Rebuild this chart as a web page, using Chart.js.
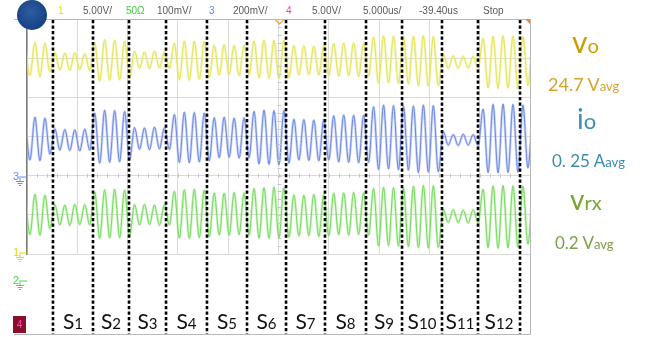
<!DOCTYPE html>
<html><head><meta charset="utf-8">
<script src="https://cdn.jsdelivr.net/npm/chart.js@4.4.1/dist/chart.umd.min.js"></script>
<style>
html,body{margin:0;padding:0;background:#fff;}
#wrap{position:relative;width:646px;height:337px;overflow:hidden;background:#fff;}
canvas{position:absolute;left:0;top:0;}
.t{position:absolute;white-space:nowrap;line-height:1;}
.hdr{font-family:"Liberation Sans",Arial,sans-serif;font-size:10px;color:#5a5a5a;top:6px;}
.ann{font-family:Lato,"Open Sans",sans-serif;}
.seg{font-family:Lato,"Open Sans",sans-serif;color:#111;font-size:21px;top:310px;transform:translateX(-50%);}
.seg span{font-size:15px;}
.mk{font-family:"Liberation Sans",Arial,sans-serif;font-size:11px;}
#logo{position:absolute;left:17px;top:0px;width:30px;height:30px;border-radius:50%;
 background:radial-gradient(circle at 45% 40%,#2d5da3 0%,#1a4688 60%,#123670 100%);}
</style></head>
<body>
<div id="wrap">
<canvas id="c" width="646" height="337"></canvas>
<div id="logo"></div>
<div id="texts"></div>
</div>
<script>
// ---- data (values in divisions, relative to each trace's centre line) ----
// one peak and one trough per cycle, 52 cycles across the screen
const yellowPk = [0.36,0.40,0.38, 0.15,0.13,0.14,0.12, 0.40,0.47,0.46,0.44, 0.18,0.16,0.18,0.17, 0.38,0.44,0.43,0.42, 0.33,0.34,0.32,0.33, 0.44,0.46,0.45,0.46, 0.32,0.31,0.30,0.31, 0.37,0.38,0.39,0.38, 0.54,0.57,0.56,0.55, 0.56,0.57,0.55,0.10, 0.06,0.05,0.05, 0.50,0.56,0.57,0.56,0.55, 0.40];
const yellowTr = [-0.44,-0.47,-0.35, -0.30,-0.31,-0.29,-0.32, -0.58,-0.56,-0.55,-0.50, -0.26,-0.27,-0.25,-0.26, -0.55,-0.56,-0.54,-0.50, -0.43,-0.42,-0.44,-0.43, -0.50,-0.51,-0.52,-0.49, -0.43,-0.42,-0.43,-0.44, -0.46,-0.45,-0.47,-0.46, -0.64,-0.63,-0.65,-0.66, -0.70,-0.71,-0.70,-0.26, -0.26,-0.25,-0.26, -0.76,-0.77,-0.76,-0.78,-0.70, -0.50];
const bluePk = [0.46,0.49,0.47, 0.20,0.18,0.17,0.19, 0.60,0.67,0.66,0.64, 0.23,0.22,0.24,0.23, 0.56,0.62,0.61,0.60, 0.48,0.49,0.47,0.48, 0.64,0.67,0.66,0.66, 0.44,0.43,0.42,0.43, 0.53,0.55,0.54,0.54, 0.76,0.80,0.79,0.78, 0.78,0.80,0.79,0.12, 0.05,0.06,0.05, 0.70,0.82,0.83,0.82,0.80, 0.50];
const blueTr = [-0.60,-0.62,-0.45, -0.35,-0.36,-0.37,-0.35, -0.68,-0.66,-0.65,-0.60, -0.33,-0.34,-0.32,-0.33, -0.66,-0.67,-0.65,-0.62, -0.54,-0.53,-0.55,-0.54, -0.70,-0.71,-0.72,-0.68, -0.60,-0.61,-0.62,-0.60, -0.65,-0.66,-0.67,-0.66, -0.84,-0.83,-0.85,-0.86, -0.92,-0.91,-0.90,-0.22, -0.23,-0.22,-0.23, -0.92,-0.93,-0.92,-0.91,-0.80, -0.70];
const greenPk = [0.50,0.52,0.50, 0.26,0.25,0.27,0.26, 0.58,0.64,0.65,0.63, 0.26,0.27,0.25,0.26, 0.60,0.64,0.65,0.63, 0.56,0.55,0.57,0.56, 0.67,0.69,0.70,0.69, 0.51,0.50,0.52,0.51, 0.55,0.56,0.57,0.56, 0.67,0.70,0.69,0.68, 0.73,0.75,0.74,0.14, 0.13,0.12,0.13, 0.65,0.74,0.75,0.74,0.73, 0.55];
const greenTr = [-0.50,-0.52,-0.35, -0.26,-0.27,-0.25,-0.26, -0.60,-0.59,-0.58,-0.55, -0.26,-0.25,-0.27,-0.26, -0.59,-0.60,-0.58,-0.56, -0.51,-0.52,-0.50,-0.51, -0.59,-0.60,-0.59,-0.57, -0.54,-0.53,-0.55,-0.54, -0.51,-0.52,-0.50,-0.52, -0.79,-0.78,-0.80,-0.81, -0.84,-0.85,-0.83,-0.20, -0.20,-0.21,-0.20, -0.84,-0.85,-0.84,-0.83,-0.75, -0.60];
const firstPeakTime = -0.2;   // us
const cyclePeriod = 0.99;     // us
// segment boundaries (us on the 0..50 us screen) and names
const segBounds = [2.58,6.56,10.14,13.82,17.89,21.87,25.75,29.62,33.70,37.28,41.25,44.83,49.01];
const segNames = ['1','2','3','4','5','6','7','8','9','10','11','12'];
// header / annotation strings
const headerItems = [['1','#e2dc00'],['5.00V/',null],['50Ω','#3ad13a'],['100mV/',null],['3','#5a80f0'],['200mV/',null],['4','#f040b0'],['5.00V/',null],['5.000us/',null],['-39.40us',null],['Stop',null]];
const annText = [['v','o'],['24.7 V','avg'],['i','o'],['0. 25 A','avg'],['v','rx'],['0.2 V','avg']];

// ---- build ----
function buildTrace(pk, tr, offset){
  const pts=[];
  for(let c=0;c<pk.length;c++){
    const t=firstPeakTime+c*cyclePeriod;
    pts.push({x:t, y:offset+pk[c]});
    pts.push({x:t+cyclePeriod/2, y:offset+tr[c]});
  }
  return pts;
}
const yD=buildTrace(yellowPk,yellowTr,2), bD=buildTrace(bluePk,blueTr,0), gD=buildTrace(greenPk,greenTr,-2);
function ds(data,color,w){return {data,borderColor:color,borderWidth:w,pointRadius:0,fill:false,cubicInterpolationMode:'monotone'};}

const extras={
  id:'extras',
  afterDraw(chart){
    const ctx=chart.ctx, xs=chart.scales.x, ys=chart.scales.y, a=chart.chartArea;
    ctx.save();
    ctx.strokeStyle='#b8b8b8'; ctx.lineWidth=1;
    ctx.beginPath(); ctx.moveTo(14,a.top+0.5); ctx.lineTo(a.right,a.top+0.5); ctx.stroke();
    ctx.beginPath(); ctx.moveTo(a.right+0.5,a.top); ctx.lineTo(a.right+0.5,335); ctx.stroke();
    ctx.beginPath(); ctx.moveTo(14,334.5); ctx.lineTo(a.right,334.5); ctx.stroke();
    ctx.strokeStyle='#c8c8c8';
    const yc=ys.getPixelForValue(-1);
    for(let t=1;t<50;t++){const x=Math.round(xs.getPixelForValue(t))+0.5;ctx.beginPath();ctx.moveTo(x,yc-2);ctx.lineTo(x,yc+2);ctx.stroke();}
    const xc=Math.round(xs.getPixelForValue(25))+0.5;
    for(let v=-3;v<=3;v+=0.2){const y=Math.round(ys.getPixelForValue(v))+0.5;ctx.beginPath();ctx.moveTo(xc-2,y);ctx.lineTo(xc+2,y);ctx.stroke();}
    ctx.strokeStyle='#f0a030'; ctx.lineWidth=1.2;
    ctx.beginPath(); ctx.moveTo(xc-4,a.top+1); ctx.lineTo(xc,a.top+5); ctx.lineTo(xc+4,a.top+1); ctx.stroke();
    ctx.fillStyle='#f08a20'; ctx.beginPath(); ctx.moveTo(a.right-5,a.top); ctx.lineTo(a.right,a.top); ctx.lineTo(a.right,a.top+5); ctx.fill();
    ctx.strokeStyle='#000'; ctx.lineWidth=2.6; ctx.setLineDash([3.3,2.2]);
    segBounds.forEach(b=>{const x=xs.getPixelForValue(b);ctx.beginPath();ctx.moveTo(x,a.top+1);ctx.lineTo(x,334);ctx.stroke();});
    ctx.setLineDash([]);
    function gnd(x,y,col){ctx.strokeStyle=col;ctx.lineWidth=1;ctx.beginPath();ctx.moveTo(x,y-4);ctx.lineTo(x,y+1);ctx.moveTo(x-4,y+1.5);ctx.lineTo(x+4,y+1.5);ctx.moveTo(x-2.5,y+3.5);ctx.lineTo(x+2.5,y+3.5);ctx.moveTo(x-1,y+5.5);ctx.lineTo(x+1,y+5.5);ctx.stroke();
      ctx.beginPath();ctx.moveTo(x+1,y-3);ctx.lineTo(x+7,y-3);ctx.stroke();}
    gnd(20,180,'#6a8cf0'); gnd(20,256,'#e6d800'); gnd(20,284,'#46d846');
    ctx.restore();
  }
};

const chart=new Chart(document.getElementById('c'),{
  type:'line',
  data:{datasets:[
    ds(yD,'rgba(238,238,140,0.55)',2.6), ds(yD,'#d8d418',1),
    ds(bD,'rgba(160,180,238,0.55)',2.6), ds(bD,'#2f54d4',1),
    ds(gD,'rgba(170,236,150,0.55)',2.6), ds(gD,'#38c020',1)
  ]},
  options:{
    responsive:false, animation:false, devicePixelRatio:1,
    layout:{padding:{left:27,right:116,top:19,bottom:83}},
    plugins:{legend:{display:false},tooltip:{enabled:false}},
    scales:{
      x:{type:'linear',min:0,max:50,ticks:{display:false,stepSize:5},grid:{color:'#dadada',lineWidth:1,drawTicks:false},border:{display:false}},
      y:{type:'linear',min:-3,max:3,ticks:{display:false,stepSize:1},grid:{color:'#dadada',lineWidth:1,drawTicks:false},border:{display:true,color:'#7c7c7c',width:1.5}}
    }
  },
  plugins:[extras]
});

// ---- text as DOM ----
const box=document.getElementById('texts');
function add(html,cls,style){const d=document.createElement('div');d.className='t '+cls;d.innerHTML=html;d.setAttribute('style',style);box.appendChild(d);return d;}
const hdrLeft=[58,83,126,157,209,233,286,312,363,419,483];
headerItems.forEach((h,i)=>add(h[0],'hdr','left:'+hdrLeft[i]+'px;'+(h[1]?'color:'+h[1]:'')));
const xs=chart.scales.x;
segNames.forEach((n,i)=>{const cx=(xs.getPixelForValue(segBounds[i])+xs.getPixelForValue(segBounds[i+1]))/2;
  add('S<span>'+n+'</span>','seg','left:'+cx.toFixed(1)+'px');});
const annStyle=[
  ['left:572px;top:26px;font-size:30px;color:#c9a000','20px'],
  ['left:548px;top:75px;font-size:18px;color:#d2a431','13px'],
  ['left:577px;top:104px;font-size:28px;color:#3b8db2','22px'],
  ['left:552px;top:152px;font-size:17px;color:#3a8bb0','13px'],
  ['left:570px;top:185px;font-size:28px;color:#77a530','20px'],
  ['left:555px;top:234px;font-size:17px;color:#7ca148','13px']];
annText.forEach((a,i)=>add(a[0]+'<span style="font-size:'+annStyle[i][1]+'">'+a[1]+'</span>','ann',annStyle[i][0]));
add('3','mk','left:13px;top:171px;color:#6a8cf0');
add('1','mk','left:13px;top:247px;color:#e6d800');
add('2','mk','left:13px;top:275px;color:#46d846');
add('4','mk','left:13px;top:316px;width:13px;height:17px;background:#8a0f2c;color:#ff4fb0;text-align:center;line-height:17px;font-size:10px');
</script>
</body></html>
